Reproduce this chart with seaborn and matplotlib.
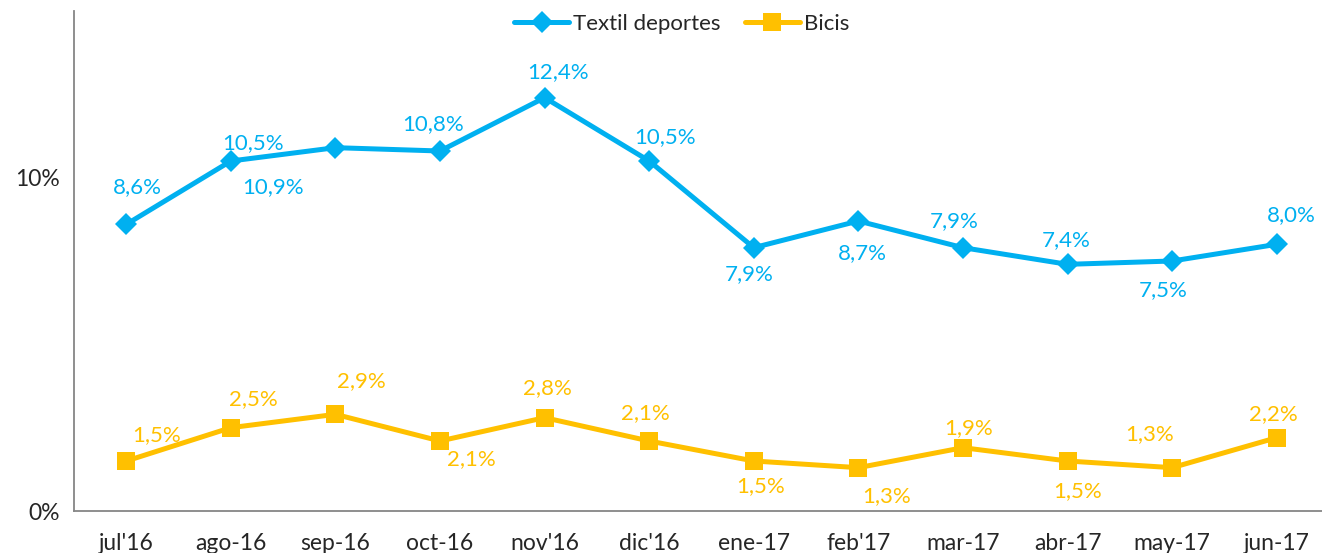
import matplotlib
matplotlib.use("Agg")
from matplotlib import pyplot as plt
from matplotlib.ticker import FixedLocator, FuncFormatter
import numpy as np
import pandas as pd
import seaborn as sns

months = ["jul'16", "ago-16", "sep-16", "oct-16", "nov'16", "dic'16",
          "ene-17", "feb'17", "mar-17", "abr-17", "may-17", "jun-17"]
textil = [8.6, 10.5, 10.9, 10.8, 12.4, 10.5, 7.9, 8.7, 7.9, 7.4, 7.5, 8.0]
bicis = [1.5, 2.5, 2.9, 2.1, 2.8, 2.1, 1.5, 1.3, 1.9, 1.5, 1.3, 2.2]

# label offsets in pixels (dx, dy up)
textil_off = [(11, 37), (22, 18), (-62, -39), (-7, 27), (13, 26), (16, 24),
              (-5, -26), (4, -32), (-9, 27), (-1, 24), (-9, -29), (15, 29)]
bicis_off = [(30, 26), (22, 29), (26, 33), (31, -18), (3, 30), (-4, 28),
             (7, -25), (28, -28), (6, 20), (10, -30), (-23, 34), (-3, 24)]

blue = "#00B0F0"
gold = "#FFC000"

sns.set_style("white")
plt.rcParams['font.family'] = ['Lato', 'DejaVu Sans']

fig = plt.figure(figsize=(13.22, 5.53), dpi=100)
ax = fig.add_axes([74/1322, 42/553, (1329-74)/1322, 500/553])

x = np.arange(len(months))
df = pd.DataFrame({"x": x, "Textil deportes": textil, "Bicis": bicis})

sns.lineplot(data=df, x="x", y="Textil deportes", ax=ax, color=blue, lw=3.6,
             marker="D", markersize=11, markeredgewidth=0, label="Textil deportes")
sns.lineplot(data=df, x="x", y="Bicis", ax=ax, color=gold, lw=3.6,
             marker="s", markersize=13.5, markeredgewidth=0, label="Bicis")

for xi, v, (dx, dy) in zip(x, textil, textil_off):
    ax.annotate(f"{v:.1f}%".replace(".", ","), (xi, v), xytext=(dx*0.72, dy*0.72),
                textcoords="offset points", ha="center", va="center",
                color=blue, fontsize=16)
for xi, v, (dx, dy) in zip(x, bicis, bicis_off):
    ax.annotate(f"{v:.1f}%".replace(".", ","), (xi, v), xytext=(dx*0.72, dy*0.72),
                textcoords="offset points", ha="center", va="center",
                color=gold, fontsize=16)

ax.set_xlim(-0.5, 11.5)
ax.set_ylim(0, 15)
ax.set_xticks(x)
ax.set_xticklabels(months, fontsize=16.5)
ax.xaxis.set_minor_locator(FixedLocator(np.arange(-0.5, 12, 1)))
ax.tick_params(axis="x", which="major", length=0, pad=16)
ax.tick_params(axis="x", which="minor", length=6, width=1.3, color="#868686", direction="out")
ax.set_yticks([0, 10])
ax.yaxis.set_major_formatter(FuncFormatter(lambda v, p: f"{v:.0f}%"))
ax.tick_params(axis="y", length=6, width=1.3, color="#868686", direction="out", labelsize=16.5, pad=4)
ax.set_xlabel("")
ax.set_ylabel("")

for s in ["top", "right"]:
    ax.spines[s].set_visible(False)
for s in ["left", "bottom"]:
    ax.spines[s].set_color("#868686")
    ax.spines[s].set_linewidth(1.3)

ax.legend(loc="upper center", bbox_to_anchor=(0.484, 1.035), ncol=2, frameon=False,
          fontsize=16, handlelength=2.5, columnspacing=1.1, handletextpad=0.15)

fig.savefig("out.png", dpi=100)
